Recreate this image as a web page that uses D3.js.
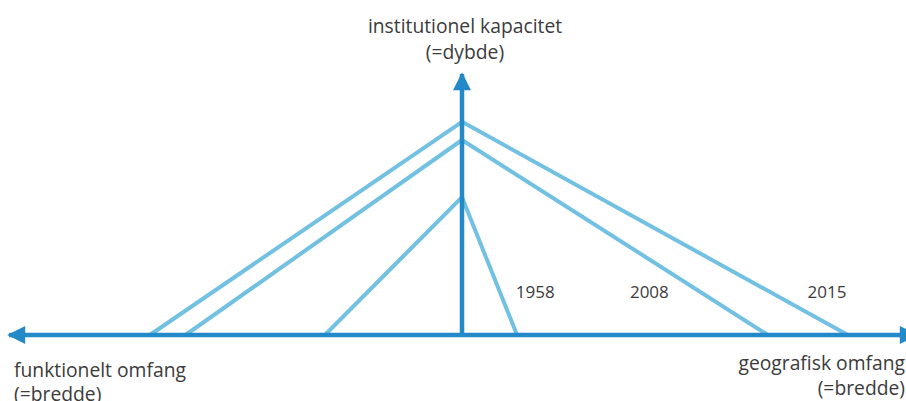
<!DOCTYPE html>
<html lang="da">
<head>
<meta charset="utf-8">
<title>Institutionel kapacitet, funktionelt og geografisk omfang</title>
<script src="https://cdn.jsdelivr.net/npm/d3@7"></script>
<style>
  html, body { margin: 0; padding: 0; background: #fff; overflow: hidden; }
  text { font-family: "Open Sans", "Noto Sans", sans-serif; fill: #3b3b3b; }
</style>
</head>
<body>
<script>
// data: depth (institutional capacity) and breadth on each side, 0-100 index
var years      = ["1958", "2008", "2015"];
var depth      = [53, 75, 82];      // institutionel kapacitet
var functional = [30, 60.5, 68.3];  // funktionelt omfang (venstre)
var geographic = [12.4, 68.9, 86.9]; // geografisk omfang (højre)

var w = 906, h = 401;

// one horizontal scale: negative = functional (left), positive = geographic (right)
var x = d3.scaleLinear().domain([-100, 0, 100]).range([5, 462, 906]);
var y = d3.scaleLinear().domain([0, 100]).range([335, 75]);

var svg = d3.select("body").append("svg")
    .attr("width", w)
    .attr("height", h);

var axisColor = "#2389c8";
var lineColor = "#72c1e2";

var data = years.map(function(d, i) {
  return { year: d, depth: depth[i], left: functional[i], right: geographic[i] };
});

// the three "tents"
var line = d3.line();
svg.selectAll("path.tent")
   .data(data)
   .enter()
   .append("path")
   .attr("class", "tent")
   .attr("d", function(d) {
     return line([[x(-d.left), y(0)], [x(0), y(d.depth)], [x(d.right), y(0)]]);
   })
   .style("fill", "none")
   .style("stroke", lineColor)
   .style("stroke-width", 4)
   .style("stroke-linejoin", "round");

// arrow heads
var defs = svg.append("defs");
defs.append("marker")
    .attr("id", "arrow")
    .attr("viewBox", "0 0 10 10")
    .attr("refX", 9)
    .attr("refY", 5)
    .attr("markerUnits", "userSpaceOnUse")
    .attr("markerWidth", 19)
    .attr("markerHeight", 18)
    .attr("orient", "auto-start-reverse")
    .append("path")
    .attr("d", "M0,0L10,5L0,10Z")
    .style("fill", axisColor);

// horizontal axis (arrows both ends, right tip runs off the page)
svg.append("line")
   .attr("x1", x(-100) + 4).attr("y1", y(0))
   .attr("x2", x(100) + 10).attr("y2", y(0))
   .style("stroke", axisColor)
   .style("stroke-width", 4.5)
   .attr("marker-start", "url(#arrow)")
   .attr("marker-end", "url(#arrow)");

// vertical axis
svg.append("line")
   .attr("x1", x(0)).attr("y1", y(0))
   .attr("x2", x(0)).attr("y2", y(100) - 1)
   .style("stroke", axisColor)
   .style("stroke-width", 4.5)
   .attr("marker-end", "url(#arrow)");

// year labels (placed between the lines, in scale units)
var labelAt = { "1958": 16.5, "2008": 42.2, "2015": 82.2 };
svg.selectAll("text.year")
   .data(data)
   .enter()
   .append("text")
   .attr("class", "year")
   .attr("x", function(d) { return x(labelAt[d.year]); })
   .attr("y", 298)
   .attr("text-anchor", "middle")
   .style("font-size", "17px")
   .text(function(d) { return d.year; });

// axis titles
function title(lines, px, py, gap, anchor) {
  var t = svg.append("text")
     .attr("text-anchor", anchor)
     .style("font-size", "19.3px");
  lines.forEach(function(s, i) {
    t.append("tspan").attr("x", px).attr("y", py + i * gap).text(s);
  });
}
title(["institutionel kapacitet", "(=dybde)"], x(0) + 3, 33, 25.5, "middle");
title(["funktionelt omfang", "(=bredde)"], 14, 377, 23.5, "start");
title(["geografisk omfang", "(=bredde)"], 905, 370, 24.5, "end");
</script>
</body>
</html>
